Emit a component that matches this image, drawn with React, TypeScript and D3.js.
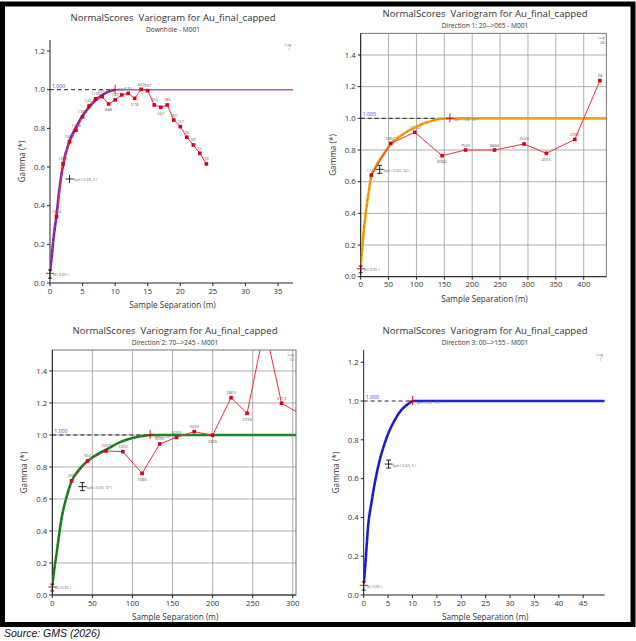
import * as d3 from 'd3'

const FONT = "'Open Sans', 'Noto Sans', sans-serif"
const INK = '#333'

// Downhole - M001
const dhLags = [1, 2, 3, 4, 5, 6, 7, 8, 9, 10, 11, 12, 13, 14, 15, 16, 17, 18, 19, 20, 21, 22, 23, 24]
const dhGamma = [0.343, 0.616, 0.731, 0.79, 0.86, 0.916, 0.953, 0.964, 0.926, 0.947, 0.973, 0.981, 0.955, 1.002, 0.995, 0.921, 0.909, 0.921, 0.843, 0.809, 0.754, 0.714, 0.671, 0.616]
const dhPairs = ['1954', '1655', '1660', '1518', '1393', '1253', '1126', '1015', '888', '783', '691', '625', '578', '440', '397', '304', '247', '180', '160', '127', '90', '69', '52', '39']
const dhModelX = [0, 0.25, 0.5, 1, 1.5, 2, 3, 4, 5, 6, 7, 8, 9, 10]
const dhModelY = [0.06, 0.13, 0.22, 0.35, 0.5, 0.61, 0.735, 0.805, 0.865, 0.91, 0.945, 0.972, 0.99, 1.0]

// Direction 1: 20-->065
const d1Lags = [19, 54, 97, 146, 188, 240, 293, 333, 384, 429]
const d1Gamma = [0.642, 0.842, 0.912, 0.764, 0.8, 0.8, 0.838, 0.779, 0.867, 1.238]
const d1Pairs = ['1142', '5850', '11089', '8986', '7500', '8884', '4544', '4055', '2005', '38']
const d1ModelX = [0, 2, 5, 8, 12, 15, 19, 24, 29, 34, 44, 54, 70, 85, 100, 115, 130, 145, 160]
const d1ModelY = [0.06, 0.15, 0.27, 0.37, 0.48, 0.55, 0.635, 0.675, 0.71, 0.738, 0.79, 0.838, 0.885, 0.92, 0.948, 0.97, 0.987, 0.997, 1.0]

// Direction 2: 70-->245
const d2Lags = [24, 44, 67, 88, 112, 134, 155, 177, 200, 223, 243, 265, 286, 308]
const d2Gamma = [0.713, 0.838, 0.9, 0.896, 0.76, 0.944, 0.985, 1.021, 0.998, 1.233, 1.135, 1.677, 1.198, 1.135]
const d2Pairs = ['393', '902', '2297', '3309', '3386', '2290', '3005', '3409', '2806', '2803', '3739', '3710', '3713', '2812']
const d2ModelX = [0, 1, 3, 5.4, 8, 11.6, 17.9, 24, 34.5, 43.7, 59.5, 67, 84.5, 101, 118, 124]
const d2ModelY = [0.06, 0.1, 0.18, 0.26, 0.36, 0.48, 0.615, 0.71, 0.79, 0.835, 0.89, 0.908, 0.955, 0.983, 0.997, 1.0]

// Direction 3: 00-->155 (model only)
const d3ModelX = [0, 0.14, 0.55, 0.89, 1.57, 2.26, 3.28, 4.3, 5.33, 6.36, 7.73, 9.1, 10]
const d3ModelY = [0.06, 0.095, 0.232, 0.352, 0.473, 0.576, 0.696, 0.782, 0.851, 0.902, 0.954, 0.985, 1.0]

interface PanelProps {
  id: string
  title: string
  subtitle: string
  titleX: number
  titleY: number
  left: number
  right: number
  top: number
  bottom: number
  xMax: number
  yMax: number
  xTicks: number[]
  yTicks: number[]
  grid: boolean
  lags: number[]
  gamma: number[]
  pairs: string[]
  modelX: number[]
  modelY: number[]
  range: number
  color: string
  dashColor: string
  sillColor: string
  sillWidth: number
  lagText: string
  struct: [number, number, string]
  rangeText: string
  bars: boolean
}

function Panel(p: PanelProps) {
  const x = d3.scaleLinear().domain([0, p.xMax]).range([p.left, p.right])
  const y = d3.scaleLinear().domain([0, p.yMax]).range([p.bottom, p.top])
  const modelPts: [number, number][] = p.modelX.map((v, i) => [v, p.modelY[i]])
  const model = d3.line<[number, number]>()
    .x(d => x(d[0]))
    .y(d => y(d[1]))
    .curve(d3.curveMonotoneX)
  const expPts: [number, number][] = p.lags.map((v, i) => [v, p.gamma[i]])
  const exp = d3.line<[number, number]>().x(d => x(d[0])).y(d => y(d[1]))
  // label under the point when it is a local low, above otherwise
  const valley = (i: number) =>
    i > 0 && i < p.gamma.length - 1 && p.gamma[i] < p.gamma[i - 1] && p.gamma[i] < p.gamma[i + 1]
  const [sx, sy, stext] = p.struct

  return (
    <g fontFamily={FONT}>
      <defs>
        <clipPath id={p.id}>
          <rect x={p.left} y={p.top} width={p.right - p.left} height={p.bottom - p.top} />
        </clipPath>
      </defs>
      <text x={p.titleX} y={p.titleY} textAnchor="middle" fontSize={9.6} fill={INK}
        style={{ whiteSpace: 'pre' }}>
        {p.title}
      </text>
      <text x={p.titleX} y={p.titleY + 11} textAnchor="middle" fontSize={6.6} fill={INK}>
        {p.subtitle}
      </text>

      {p.grid && (
        <g stroke="#9a9a9a" strokeWidth={0.8}>
          {p.xTicks.slice(1).map(t => (
            <line key={'gx' + t} x1={x(t)} x2={x(t)} y1={p.top} y2={p.bottom} />
          ))}
          {p.yTicks.slice(1).map(t => (
            <line key={'gy' + t} x1={p.left} x2={p.right} y1={y(t)} y2={y(t)} />
          ))}
          <rect x={p.left} y={p.top} width={p.right - p.left} height={p.bottom - p.top}
            fill="none" stroke="#555" strokeWidth={0.8} />
        </g>
      )}

      {/* axes */}
      <line x1={p.left} x2={p.right} y1={p.bottom} y2={p.bottom} stroke="#222" strokeWidth={1} />
      <line x1={p.left} x2={p.left} y1={p.top} y2={p.bottom} stroke="#222" strokeWidth={1} />
      {p.xTicks.map(t => (
        <g key={'xt' + t}>
          <line x1={x(t)} x2={x(t)} y1={p.bottom} y2={p.bottom + 3} stroke="#222" />
          <text x={x(t)} y={p.bottom + 10.5} textAnchor="middle" fontSize={7.8} fill={INK}>{t}</text>
        </g>
      ))}
      {p.yTicks.map(t => (
        <g key={'yt' + t}>
          <line x1={p.left - 3} x2={p.left} y1={y(t)} y2={y(t)} stroke="#222" />
          <text x={p.left - 5} y={y(t) + 2.7} textAnchor="end" fontSize={7.8} fill={INK}>{t.toFixed(1)}</text>
        </g>
      ))}
      <text x={(p.left + p.right) / 2 + 1} y={p.bottom + 25} textAnchor="middle" fontSize={8.2} fill={INK}>
        Sample Separation (m)
      </text>
      <text transform={`translate(${p.left - 25},${(p.top + p.bottom) / 2}) rotate(-90)`}
        textAnchor="middle" fontSize={8.2} fill={INK}>
        Gamma (*)
      </text>

      {/* lag legend */}
      <text x={p.right - 5} y={p.top + 6} textAnchor="middle" fontSize={4.2} fill="#777">Lag</text>
      <text x={p.right - 4} y={p.top + 10.5} textAnchor="middle" fontSize={4.2} fill="#777">{p.lagText}</text>

      <g clipPath={`url(#${p.id})`}>
        {/* sill */}
        <line x1={x(p.range)} x2={x(p.xMax)} y1={y(1)} y2={y(1)} stroke={p.sillColor} strokeWidth={p.sillWidth} />
        <line x1={x(0)} x2={x(p.range)} y1={y(1)} y2={y(1)} stroke="#222" strokeWidth={1} strokeDasharray="4,3" />

        {/* pair counts (points above the axis top are off the chart) */}
        {expPts.map((d, i) => d[1] > p.yMax ? null : (
          <text key={'pl' + i} x={x(d[0])} y={y(d[1]) + (valley(i) ? 7.5 : -3.5)}
            textAnchor="middle" fontSize={4.2} fill="#666">
            {p.pairs[i]}
          </text>
        ))}

        {/* model */}
        <path d={model(modelPts) ?? ''} fill="none" stroke={p.color} strokeWidth={2.6} />
        <path d={model(modelPts) ?? ''} fill="none" stroke={p.dashColor} strokeWidth={1} strokeDasharray="3,2.5" opacity={0.6} />

        {/* experimental */}
        {expPts.length > 0 && (
          <path d={exp(expPts) ?? ''} fill="none" stroke="#e8313b" strokeWidth={1} />
        )}
        {expPts.map((d, i) => (
          <rect key={'pt' + i} x={x(d[0]) - 1.8} y={y(d[1]) - 1.8} width={3.6} height={3.6} fill="#d6001c" />
        ))}
      </g>

      <text x={x(0) + 2} y={y(1) - 2} fontSize={5.2} fill="#3b3bf0">1.000</text>

      {/* nugget */}
      <g>
        <line x1={x(0)} x2={x(0)} y1={y(0.025)} y2={y(0.068)} stroke="#111" strokeWidth={0.9} />
        <line x1={x(0) - 2} x2={x(0) + 2} y1={y(0.068)} y2={y(0.068)} stroke="#111" strokeWidth={0.9} />
        <line x1={x(0) - 2} x2={x(0) + 2} y1={y(0.025)} y2={y(0.025)} stroke="#111" strokeWidth={0.9} />
        <line x1={x(0) - 4} x2={x(0) + 4} y1={y(0.05)} y2={y(0.05)} stroke="#d6001c" strokeWidth={0.9} />
        <text x={x(0) + 3} y={y(0.05) + 2.5} fontSize={3.8} fill="#666">N ( 0.05 )</text>
      </g>

      {/* first structure */}
      <g stroke="#111" strokeWidth={0.9}>
        <line x1={x(sx)} x2={x(sx)} y1={y(sy) - 4} y2={y(sy) + 4} />
        <line x1={x(sx) - 4} x2={x(sx) + 4} y1={y(sy)} y2={y(sy)} />
        {p.bars && <line x1={x(sx) - 2.5} x2={x(sx) + 2.5} y1={y(sy) - 4} y2={y(sy) - 4} />}
        {p.bars && <line x1={x(sx) - 2.5} x2={x(sx) + 2.5} y1={y(sy) + 4} y2={y(sy) + 4} />}
      </g>
      <text x={x(sx) + 4} y={y(sy) + 2.5} fontSize={3.8} fill="#666">{stext}</text>

      {/* range */}
      <g stroke="#d6001c" strokeWidth={0.9}>
        <line x1={x(p.range)} x2={x(p.range)} y1={y(1) - 5} y2={y(1) + 4} />
        <line x1={x(p.range) - 4} x2={x(p.range) + 4} y1={y(1)} y2={y(1)} />
      </g>
      {p.rangeText && (
        <text x={x(p.range) + 4} y={y(1) + 3} fontSize={3.4} fill="#666">{p.rangeText}</text>
      )}
    </g>
  )
}

const TITLE = 'NormalScores  Variogram for Au_final_capped'
const range = (a: number, b: number, s: number) => d3.range(a, b + s / 2, s)

export default function App() {
  return (
    <svg width={636} height={641} viewBox="0 0 636 641"
      style={{ position: 'absolute', left: 0, top: 0, background: '#fff' }}>
      <rect x={0} y={0} width={636} height={641} fill="#fff" />
      <Panel id="c1" title={TITLE} subtitle="Downhole - M001" titleX={173} titleY={21}
        left={50} right={293} top={40} bottom={283} xMax={37.3} yMax={1.257}
        xTicks={range(0, 35, 5)} yTicks={range(0, 1.2, 0.2)} grid={false}
        lags={dhLags} gamma={dhGamma} pairs={dhPairs} modelX={dhModelX} modelY={dhModelY}
        range={10} color="#7a1fa2" dashColor="#e040e0" sillColor="#a860c8" sillWidth={1.5}
        lagText="1" struct={[3, 0.538, 'Sph ( 0.49, 3 )']} rangeText="" bars={false} />
      <Panel id="c2" title={TITLE} subtitle="Direction 1: 20-->065 - M001" titleX={485} titleY={17}
        left={360.7} right={606.3} top={33.3} bottom={276.7} xMax={440.5} yMax={1.537}
        xTicks={range(0, 400, 50)} yTicks={range(0, 1.4, 0.2)} grid={true}
        lags={d1Lags} gamma={d1Gamma} pairs={d1Pairs} modelX={d1ModelX} modelY={d1ModelY}
        range={160} color="#f5a50a" dashColor="#b86a00" sillColor="#f5a50a" sillWidth={2.6}
        lagText="48" struct={[34, 0.678, 'Sph ( 0.63, 34 )']} rangeText="Sph ( 1.08, 167 )" bars={true} />
      <Panel id="c3" title={TITLE} subtitle="Direction 2: 70-->245 - M001" titleX={175} titleY={333.5}
        left={52.3} right={296} top={350} bottom={595} xMax={304} yMax={1.531}
        xTicks={range(0, 300, 50)} yTicks={range(0, 1.4, 0.2)} grid={true}
        lags={d2Lags} gamma={d2Gamma} pairs={d2Pairs} modelX={d2ModelX} modelY={d2ModelY}
        range={122} color="#1e8a1e" dashColor="#0a4a0a" sillColor="#1e8a1e" sillWidth={2.6}
        lagText="22" struct={[37.5, 0.677, 'Sph ( 0.65, 37 )']} rangeText="Sph ( 1.20, 122 )" bars={true} />
      <Panel id="c4" title={TITLE} subtitle="Direction 3: 00-->155 - M001" titleX={485} titleY={333.5}
        left={363.7} right={604.7} top={350} bottom={595} xMax={49.4} yMax={1.263}
        xTicks={range(0, 45, 5)} yTicks={range(0, 1.2, 0.2)} grid={false}
        lags={[]} gamma={[]} pairs={[]} modelX={d3ModelX} modelY={d3ModelY}
        range={10} color="#2222d8" dashColor="#0a0a80" sillColor="#2222d8" sillWidth={2.6}
        lagText="1" struct={[5.1, 0.675, 'Sph ( 0.65, 5 )']} rangeText="Sph ( 0.32, 10 )" bars={true} />

      {/* outer frame */}
      <rect x={2.5} y={4} width={630.5} height={620.5} fill="none" stroke="#000" strokeWidth={5} />
      <text x={4} y={637} fontFamily="'Liberation Sans', Arial, sans-serif" fontStyle="italic"
        fontSize={10.5} fill="#111">
        Source: GMS (2026)
      </text>
    </svg>
  )
}
